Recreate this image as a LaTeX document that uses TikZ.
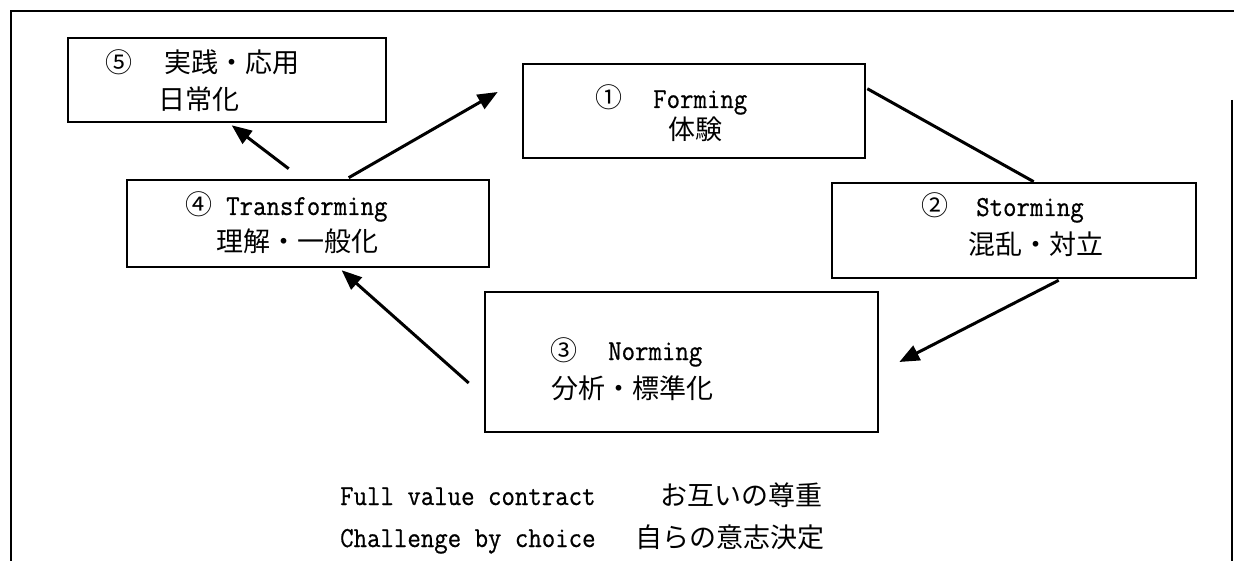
\documentclass[tikz,border=0pt]{standalone}
\usepackage{fontspec}
\usetikzlibrary{arrows.meta,calc}
\newfontfamily\jp{Noto Sans CJK JP}
\newfontfamily\lat[FakeStretch=0.9,FakeBold=0.6]{Latin Modern Mono}
\tikzset{
  box/.style={draw, line width=2.6pt, inner sep=0pt},
  jt/.style={anchor=base west, inner sep=0pt, font=\jp\fontsize{27}{30}\selectfont},
  lt/.style={anchor=base west, inner sep=0pt, font=\lat\fontsize{29}{32}\selectfont},
  conn/.style={line width=3pt},
  arr/.style={conn, -{Triangle[length=20pt,width=16pt]}},
  framerule/.style={line width=2pt}
}
\begin{document}
\begin{tikzpicture}[x=1pt,y=-1pt]
\useasboundingbox (0,0) rectangle (1234,561);
% outer frame
\draw[framerule] (11,561) -- (11,11) -- (1234,11);
\draw[framerule] (1232,100) -- (1232,561);

% boxes
\node[box, minimum width=318pt, minimum height=84pt] (b5) at (227,80) {};
\node[box, minimum width=342pt, minimum height=94pt] (b1) at (694,111) {};
\node[box, minimum width=364pt, minimum height=95pt] (b2) at (1014,230.5) {};
\node[box, minimum width=362pt, minimum height=87pt] (b4) at (308,223.5) {};
\node[box, minimum width=393pt, minimum height=140pt] (b3) at (681.5,362) {};

% texts
\node[jt] (t5a) at (105,73) {⑤};
\node[jt] (t5b) at (164,73) {実践・応用};
\node[jt] (t5c) at (158,110) {日常化};

\node[jt] (t1a) at (595,108) {①};
\node[lt] (t1b) at (653,108) {Forming};
\node[jt] (t1c) at (668,140) {体験};

\node[jt] (t2a) at (921,216) {②};
\node[lt] (t2b) at (976,216) {Storming};
\node[jt] (t2c) at (968,255) {混乱・対立};

\node[jt] (t4a) at (185,215) {④};
\node[lt] (t4b) at (226,215) {Transforming};
\node[jt] (t4c) at (216,252) {理解・一般化};

\node[jt] (t3a) at (550,360) {③};
\node[lt] (t3b) at (608,360) {Norming};
\node[jt] (t3c) at (551,398) {分析・標準化};

\node[lt] (f1a) at (340,505) {Full value contract};
\node[jt] (f1b) at (660,505) {お互いの尊重};
\node[lt] (f2a) at (340,547) {Challenge by choice};
\node[jt] (f2b) at (635,547) {自らの意志決定};

% connectors
\draw[arr] ($(b4.north west)+(163,-10)$) -- ($(b5.south west)+(165,2)$);
\draw[arr] ($(b4.north west)+(223,-1)$) -- ($(b1.west)+(-24,-19)$);
\draw[conn] ($(b1.north east)+(1,26)$) -- ($(b2.north west)+(203,0)$);
\draw[arr] ($(b2.south west)+(228,1)$) -- ($(b3.east)+(20,0)$);
\draw[arr] ($(b3.west)+(-15,21)$) -- ($(b4.south west)+(216,2)$);
\end{tikzpicture}
\end{document}
